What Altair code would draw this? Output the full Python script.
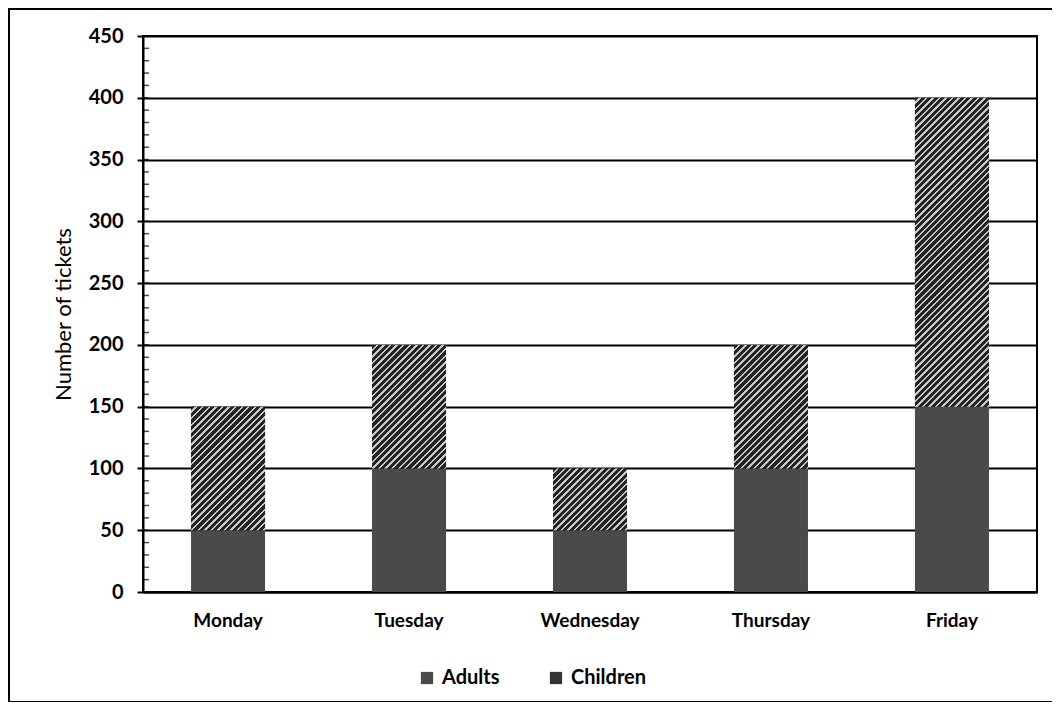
import altair as alt
import pandas as pd

days = ["Monday", "Tuesday", "Wednesday", "Thursday", "Friday"]
adults = [50, 100, 50, 100, 150]
children = [100, 100, 50, 100, 250]
y_ticks = [0, 50, 100, 150, 200, 250, 300, 350, 400, 450]
minor_ticks = list(range(0, 451, 10))

W, H = 894, 556
BAR = 74
YMAX = 450

long_df = pd.DataFrame(
    [{"day": d, "group": "Adults", "value": a, "ord": 0} for d, a in zip(days, adults)]
    + [{"day": d, "group": "Children", "value": c, "ord": 1} for d, c in zip(days, children)]
)
wide_df = pd.DataFrame({"day": days, "adults": adults, "children": children})
wide_df["total"] = wide_df["adults"] + wide_df["children"]

xenc = alt.X("day:N", sort=days, title=None,
             scale=alt.Scale(paddingInner=0.3, paddingOuter=0.12),
             axis=alt.Axis(labelAngle=0, ticks=False, labelPadding=19, labelFontSize=19,
                           labelFont="Lato", labelFontWeight="bold", labelColor="black",
                           domainColor="black", domainWidth=2))
yscale = alt.Scale(domain=[0, YMAX], nice=False)

base = alt.Chart(long_df).mark_bar(size=BAR).encode(
    x=xenc,
    y=alt.Y("value:Q", stack="zero", scale=yscale, title="Number of tickets",
            axis=alt.Axis(values=y_ticks, labelFontSize=20, labelFont="Lato",
                          labelFontWeight="bold", labelColor="black", labelPadding=14,
                          tickSize=6, tickColor="black", tickWidth=2,
                          domainColor="black", domainWidth=2,
                          grid=True, gridColor="black", gridWidth=2,
                          titleFont="Lato", titleFontSize=22, titleFontWeight="normal",
                          titleColor="black", titlePadding=13)),
    fill=alt.Fill("group:N", scale=alt.Scale(domain=["Adults", "Children"],
                                              range=["#4a4a4a", "#333333"]),
                  legend=alt.Legend(title=None, orient="none", direction="horizontal",
                                    legendX=274, legendY=632, symbolType="square",
                                    symbolSize=150, symbolStrokeWidth=0,
                                    labelFont="Lato", labelFontSize=20,
                                    labelFontWeight="bold", labelColor="black",
                                    columnPadding=46, labelOffset=5)),
    order=alt.Order("ord:Q"),
)


def hatch(h_px, w_px=BAR, period=4.6, dark_frac=0.64):
    k = (w_px + h_px) / (w_px ** 2 + h_px ** 2)
    n = max(1, int(round((w_px + h_px) / (2 ** 0.5 * period))))
    stops = []
    for i in range(n):
        s0 = i / n
        s1 = (i + dark_frac) / n
        s2 = (i + 1) / n
        stops += [
            {"offset": s0, "color": "#232323"},
            {"offset": s1, "color": "#232323"},
            {"offset": s1, "color": "#c8c8c8"},
            {"offset": s2, "color": "#c8c8c8"},
        ]
    return {"gradient": "linear", "x1": 0, "y1": 0, "x2": k * w_px, "y2": k * h_px,
            "stops": stops}


hatched_layers = []
for d, c in zip(days, children):
    hpx = c * H / YMAX
    layer = alt.Chart(wide_df).transform_filter(alt.datum.day == d).mark_bar(
        size=BAR, fill=hatch(hpx)
    ).encode(
        x=alt.X("day:N", sort=days),
        y=alt.Y("total:Q", scale=yscale),
        y2="adults:Q",
    )
    hatched_layers.append(layer)

minor = alt.Chart(pd.DataFrame({"t": minor_ticks})).mark_tick(
    color="black", thickness=1.5, size=6
).encode(y=alt.Y("t:Q", scale=yscale), x=alt.value(3))

frame = alt.Chart(pd.DataFrame({"a": [0]})).mark_rect(
    fill=None, stroke="black", strokeWidth=2
).encode(x=alt.value(-134), x2=alt.value(911), y=alt.value(-27), y2=alt.value(666))

chart = alt.layer(base, *hatched_layers, minor, frame).properties(
    width=W, height=H,
    autosize=alt.AutoSizeParams(type="none"),
    padding={"left": 135, "top": 28, "right": 15, "bottom": 110},
    background="white",
).configure_view(stroke="black", strokeWidth=2)

chart.save("out.html", embed_options={"renderer": "svg", "actions": False})
